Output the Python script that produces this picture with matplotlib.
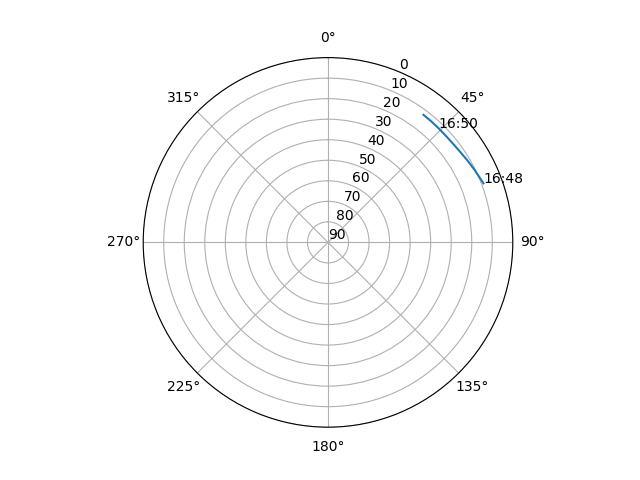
import numpy as np
import matplotlib
matplotlib.use("Agg")
import matplotlib.pyplot as plt

# satellite pass track (azimuth deg, elevation deg)
azimuth = [69.2, 63.5, 59.3, 55.5, 52.1, 48.3, 44.2, 40.4, 36.8]
elevation = [9.0, 10.4, 11.3, 12.0, 12.4, 12.6, 12.6, 12.5, 12.4]
time_labels = ["16:48", None, None, None, None, None, "16:50", None, None]
r_ticks = list(range(0, 91, 10))

fig = plt.figure(figsize=(6.4, 4.8), dpi=100)
ax = fig.add_subplot(111, projection="polar")
ax.set_theta_zero_location("N")
ax.set_theta_direction(-1)
ax.plot(np.radians(azimuth), elevation)
for a, e, t in zip(azimuth, elevation, time_labels):
    if t:
        ax.text(np.radians(a), e, t)
ax.set_ylim(90, 0)
ax.set_yticks(r_ticks)
fig.savefig("out.png")
